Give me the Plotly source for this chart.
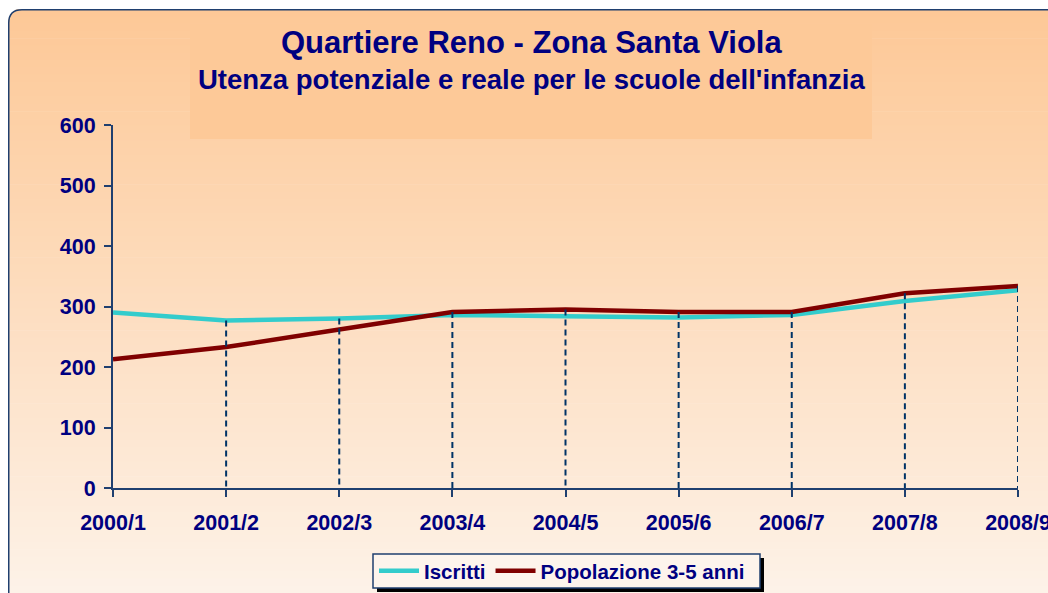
import plotly.graph_objects as go

categories = ["2000/1", "2001/2", "2002/3", "2003/4", "2004/5", "2005/6", "2006/7", "2007/8", "2008/9"]
iscritti = [290, 277, 280, 286, 284, 282, 286, 309, 327]
popolazione = [213, 233, 262, 291, 295, 291, 291, 322, 334]
y_ticks = [0, 100, 200, 300, 400, 500, 600]

W, H = 1048, 593
L, R, T, B = 113, 30, 125, 105
PW = W - L - R
PH = H - T - B
BOTTOM = H - B


def fx(p):
    return (p - L) / PW


def fy(p):
    return (BOTTOM - p) / PH


NAVY = "#000080"
AXIS = "#1F3F6F"
FONT = "Liberation Sans, Arial, sans-serif"

fig = go.Figure()

fig.add_trace(go.Scatter(x=categories, y=iscritti, mode="lines", name="Iscritti",
                         line=dict(color="#33CCCC", width=4.5)))
fig.add_trace(go.Scatter(x=categories, y=popolazione, mode="lines", name="Popolazione 3-5 anni",
                         line=dict(color="#800000", width=4.5)))

# drop lines from the highest series down to the axis (the first one lies under the y axis)
dx, dy = [], []
for i, (c, a, b) in enumerate(zip(categories, iscritti, popolazione)):
    if i == 0:
        continue
    dx += [c, c, None]
    dy += [max(a, b), 0, None]
fig.add_trace(go.Scatter(x=dx, y=dy, mode="lines", showlegend=False, hoverinfo="skip",
                         line=dict(color="#003366", width=2, dash="6px,4px")))

shapes = []
top_c = (253, 200, 150)
bot_c = (253, 242, 232)
y0p, y1p = 9, 593


def grad(p):
    t = (p - y0p) / (y1p - y0p)
    return tuple(round(top_c[k] + (bot_c[k] - top_c[k]) * t) for k in range(3))


n = 80
for i in range(n):
    a = y0p + (y1p - y0p) * i / n
    b = y0p + (y1p - y0p) * (i + 1) / n + 0.6
    col = "rgb(%d,%d,%d)" % grad((a + b) / 2)
    shapes.append(dict(type="rect", xref="paper", yref="paper", layer="below",
                       x0=fx(8), x1=fx(1060), y0=fy(b), y1=fy(a),
                       fillcolor=col, line=dict(width=0)))
# title box
shapes.append(dict(type="rect", xref="paper", yref="paper", layer="below",
                   x0=fx(190), x1=fx(872), y0=fy(139), y1=fy(24),
                   fillcolor="rgb(%d,%d,%d)" % grad(24), line=dict(width=0)))
# white corner outside rounded border
shapes.append(dict(type="path", xref="paper", yref="paper", layer="below",
                   path="M %f,%f L %f,%f Q %f,%f %f,%f Z" % (fx(7), fy(8), fx(22), fy(8), fx(8.75), fy(9.75), fx(8.75), fy(23)),
                   fillcolor="white", line=dict(width=0)))
# rounded border
shapes.append(dict(type="path", xref="paper", yref="paper", layer="above",
                   path="M %f,%f L %f,%f Q %f,%f %f,%f L %f,%f" % (
                       fx(8.75), fy(600), fx(8.75), fy(23), fx(8.75), fy(9.75), fx(22), fy(9.75), fx(1060), fy(9.75)),
                   line=dict(color=AXIS, width=1.5)))
# legend shadow and box
shapes.append(dict(type="rect", xref="paper", yref="paper", layer="above",
                   x0=fx(377), x1=fx(764), y0=fy(592), y1=fy(558),
                   fillcolor="black", line=dict(width=0)))
shapes.append(dict(type="rect", xref="paper", yref="paper", layer="above",
                   x0=fx(373), x1=fx(760), y0=fy(588), y1=fy(554),
                   fillcolor="#FDF4EC", line=dict(color=AXIS, width=1.5)))

annotations = [
    dict(text="<b>Quartiere Reno - Zona Santa Viola</b>", xref="paper", yref="paper",
         x=fx(531), y=fy(43), xanchor="center", yanchor="middle", showarrow=False,
         font=dict(family=FONT, size=31, color=NAVY)),
    dict(text="<b>Utenza potenziale e reale per le scuole dell'infanzia</b>", xref="paper", yref="paper",
         x=fx(531), y=fy(80), xanchor="center", yanchor="middle", showarrow=False,
         font=dict(family=FONT, size=27.5, color=NAVY)),
]

fig.update_layout(
    width=W, height=H, autosize=False,
    margin=dict(l=L, r=R, t=T, b=B, autoexpand=False),
    paper_bgcolor="white", plot_bgcolor="rgba(0,0,0,0)",
    shapes=shapes, annotations=annotations,
    showlegend=True,
    legend=dict(orientation="h", x=fx(562), y=fy(571), xanchor="center", yanchor="middle",
                bgcolor="rgba(0,0,0,0)", borderwidth=0,
                font=dict(family=FONT, size=20.5, color=NAVY, weight="bold"),
                itemwidth=40, tracegroupgap=0),
    xaxis=dict(type="category", categoryorder="array", categoryarray=categories,
               range=[0, len(categories) - 1], showgrid=False, zeroline=False,
               showline=True, linecolor=AXIS, linewidth=2, automargin=False,
               ticks="outside", ticklen=7, tickwidth=2, tickcolor=AXIS,
               ticklabelstandoff=7,
               tickfont=dict(family=FONT, size=21.5, color=NAVY, weight="bold")),
    yaxis=dict(range=[0, 600], tickvals=y_ticks, showgrid=False, zeroline=False,
               showline=True, linecolor=AXIS, linewidth=2, automargin=False,
               ticks="outside", ticklen=7, tickwidth=2, tickcolor=AXIS,
               ticklabelstandoff=4,
               tickfont=dict(family=FONT, size=21.5, color=NAVY, weight="bold")),
)

fig.write_html("out.html", config={"displayModeBar": False},
               post_script="document.body.style.margin='0';document.body.style.overflow='hidden';")
